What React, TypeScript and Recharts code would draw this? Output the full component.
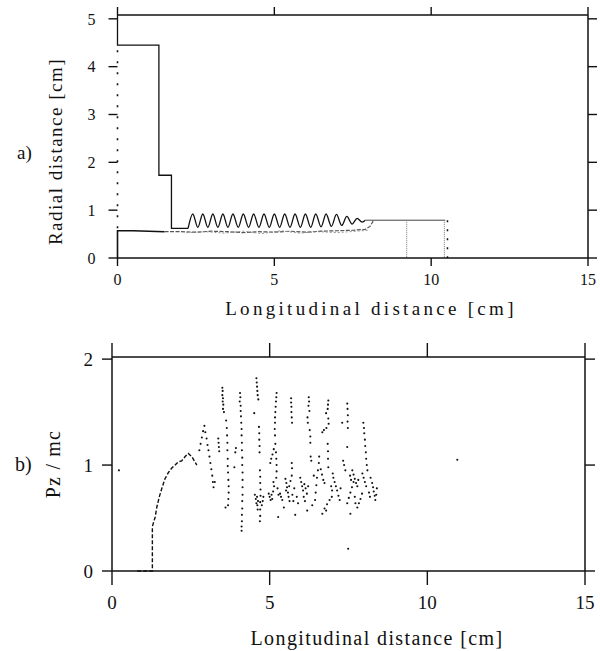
import { ComposedChart, Line, Scatter, XAxis, YAxis } from 'recharts';

type Pair = [number, number];

const xTicks = [0, 5, 10, 15];
const radialTicks = [0, 1, 2, 3, 4, 5];
const pzTicks = [0, 1, 2];

// (a) geometry: outer wall steps down into the corrugated section
const wallProfile: Pair[] = [[0, 5.08], [0, 4.45], [1.32, 4.45], [1.32, 1.73], [1.72, 1.73], [1.72, 0.62], [2.25, 0.62]];
const corrugation: Pair[] = [
  [2.25, 0.62], [2.40, 0.92], [2.56, 0.64], [2.72, 0.92], [2.88, 0.64], [3.04, 0.92], [3.20, 0.64],
  [3.36, 0.92], [3.52, 0.64], [3.68, 0.92], [3.85, 0.64], [4.01, 0.92], [4.18, 0.64], [4.34, 0.92],
  [4.51, 0.64], [4.67, 0.92], [4.84, 0.64], [5.00, 0.92], [5.17, 0.64], [5.33, 0.92], [5.50, 0.64],
  [5.66, 0.92], [5.83, 0.64], [5.99, 0.92], [6.16, 0.64], [6.32, 0.92], [6.49, 0.65], [6.65, 0.92],
  [6.82, 0.66], [6.98, 0.91], [7.15, 0.68], [7.31, 0.87], [7.48, 0.71], [7.64, 0.83], [7.80, 0.75],
  [7.90, 0.79],
];
const exitPipe: Pair[] = [[7.90, 0.79], [10.45, 0.79]];
const axisGap: Pair[] = [[0, 0.62], [0, 4.42]];
const collectorA: Pair[] = [[9.22, 0.79], [9.22, 0]];
const collectorB: Pair[] = [[10.42, 0.79], [10.42, 0]];
const collectorEdge: Pair[] = [[10.52, 0.79], [10.52, 0]];

// (a) beam envelope
const beamInlet: Pair[] = [[0, 0], [0, 0.57], [0.5, 0.57], [1.0, 0.56], [1.5, 0.55]];
const beamEdge: Pair[] = [
  [1.5, 0.55], [2.0, 0.55], [2.5, 0.54], [3.0, 0.56], [3.5, 0.55], [4.0, 0.53], [4.5, 0.55],
  [5.0, 0.54], [5.5, 0.56], [6.0, 0.54], [6.5, 0.56], [7.0, 0.57], [7.5, 0.58], [7.9, 0.60],
  [8.05, 0.66], [8.15, 0.77],
];
const beamInner: Pair[] = [
  [2.2, 0.53], [2.8, 0.55], [3.4, 0.52], [4.0, 0.56], [4.6, 0.51], [5.2, 0.57], [5.8, 0.52],
  [6.4, 0.55], [7.0, 0.53], [7.6, 0.56], [8.0, 0.58],
];

// (b) longitudinal momentum of the macro-particles
const pzLeading: Pair[] = [
  [0.80, 0.0], [1.28, 0.0], [1.28, 0.42], [1.37, 0.51], [1.42, 0.60], [1.50, 0.70], [1.59, 0.79],
  [1.68, 0.87], [1.79, 0.93], [1.89, 0.97], [2.00, 1.00], [2.10, 1.03], [2.21, 1.04], [2.32, 1.08],
  [2.42, 1.11], [2.53, 1.08], [2.63, 1.03], [2.69, 1.00],
];
const pzPeak: Pair[] = [
  [2.77, 1.14], [2.81, 1.20], [2.85, 1.26], [2.89, 1.32], [2.93, 1.37], [2.96, 1.31], [3.00, 1.25],
  [3.03, 1.19], [3.06, 1.14], [3.09, 1.08], [3.12, 1.02], [3.15, 0.96], [3.18, 0.90], [3.20, 0.84],
  [3.22, 0.79], [3.26, 0.84], [0.22, 0.95],
];
const pzStreakA: Pair[] = [
  [3.37, 1.25], [3.38, 1.21], [3.39, 1.17], [3.40, 1.13],
  [3.50, 1.73], [3.51, 1.70], [3.50, 1.66], [3.52, 1.63], [3.51, 1.60], [3.53, 1.57], [3.52, 1.53], [3.55, 1.50],
  [3.62, 1.42], [3.64, 1.35], [3.65, 1.28], [3.66, 1.21], [3.66, 1.14], [3.67, 1.06], [3.67, 0.99],
  [3.68, 0.93], [3.69, 0.86], [3.70, 0.80], [3.70, 0.74], [3.69, 0.68], [3.68, 0.62], [3.60, 0.60],
];
const pzStreakB: Pair[] = [
  [3.93, 1.16], [3.91, 1.12], [3.88, 0.98],
  [4.06, 1.68], [4.07, 1.64], [4.05, 1.60], [4.08, 1.56], [4.08, 1.51], [4.09, 1.46], [4.10, 1.40],
  [4.11, 1.34], [4.11, 1.28], [4.12, 1.21], [4.12, 1.14], [4.13, 1.07], [4.13, 1.00], [4.14, 0.93],
  [4.14, 0.86], [4.14, 0.79], [4.14, 0.72], [4.13, 0.66], [4.13, 0.59], [4.12, 0.53], [4.12, 0.47],
  [4.11, 0.42], [4.11, 0.38],
];
const pzStreakC: Pair[] = [
  [4.58, 1.82], [4.59, 1.78], [4.60, 1.74], [4.61, 1.70], [4.62, 1.66], [4.64, 1.62], [4.51, 1.49],
  [4.66, 1.36], [4.67, 1.30], [4.67, 1.24], [4.68, 1.18], [4.68, 1.12],
  [4.69, 0.95], [4.70, 0.89], [4.70, 0.83], [4.71, 0.77], [4.71, 0.71], [4.70, 0.65], [4.70, 0.58],
  [4.70, 0.52], [4.69, 0.47],
  [4.53, 0.72], [4.56, 0.68], [4.58, 0.64], [4.61, 0.62], [4.60, 0.70], [4.63, 0.66],
];
const pzStreakD: Pair[] = [
  [5.22, 1.68], [5.21, 1.64], [5.20, 1.60], [5.19, 1.55], [5.18, 1.50], [5.17, 1.45], [5.17, 1.40],
  [5.16, 1.34], [5.17, 1.28],
  [5.02, 1.02], [5.05, 1.06], [5.09, 1.10], [5.13, 1.15], [5.18, 1.20],
  [5.20, 1.12], [5.21, 1.06], [5.22, 1.00], [5.22, 0.94], [5.21, 0.88],
  [4.97, 0.73], [5.00, 0.70], [5.03, 0.67], [5.06, 0.72], [5.08, 0.68], [5.11, 0.75], [5.27, 0.51],
];
const pzStreakE: Pair[] = [
  [5.68, 1.63], [5.68, 1.59], [5.69, 1.55], [5.69, 1.50], [5.70, 1.45], [5.71, 1.40],
  [5.70, 1.02], [5.71, 0.97],
  [5.50, 0.87], [5.53, 0.83], [5.55, 0.79], [5.52, 0.76], [5.58, 0.74], [5.62, 0.80], [5.66, 0.85],
  [5.70, 0.90], [5.72, 0.72], [5.75, 0.66],
  [5.33, 0.73], [5.36, 0.70], [5.40, 0.67], [5.81, 0.53], [5.86, 0.70], [5.90, 0.64],
];
const pzStreakF: Pair[] = [
  [6.24, 1.64], [6.25, 1.60], [6.23, 1.56], [6.26, 1.51], [6.20, 1.45], [6.21, 1.40], [6.27, 1.33],
  [6.29, 1.27], [6.29, 1.21], [6.30, 1.08], [6.32, 1.04],
  [5.97, 0.88], [6.00, 0.84], [6.03, 0.80], [6.06, 0.76], [6.10, 0.82], [6.14, 0.78], [6.18, 0.73],
  [6.19, 0.57],
  [6.44, 0.67], [6.46, 0.74], [6.48, 0.81], [6.50, 0.88], [6.53, 0.95], [6.56, 1.02], [6.57, 1.08],
];
const pzStreakG: Pair[] = [
  [6.86, 1.61], [6.85, 1.57], [6.84, 1.53], [6.79, 1.49], [6.86, 1.44], [6.87, 1.39], [6.67, 1.31],
  [6.72, 1.33], [6.80, 1.35],
  [6.84, 1.20], [6.85, 1.13], [6.85, 1.06], [6.86, 0.98],
  [6.62, 0.96], [6.66, 0.91], [6.70, 0.86], [6.74, 0.83],
  [7.02, 0.88], [7.06, 0.84], [7.10, 0.80], [7.14, 0.76], [7.18, 0.71], [7.22, 0.67],
  [6.67, 0.54], [6.74, 0.59], [6.82, 0.63], [6.90, 0.67], [6.97, 0.70], [6.79, 0.57],
];
const pzStreakH: Pair[] = [
  [7.46, 1.58], [7.47, 1.53], [7.48, 1.47], [7.30, 1.40], [7.47, 1.41], [7.48, 1.35], [7.46, 1.17],
  [7.33, 1.04], [7.36, 1.00], [7.40, 0.95],
  [7.62, 0.95], [7.66, 0.91], [7.70, 0.87], [7.74, 0.83], [7.78, 0.80], [7.81, 0.86],
  [7.46, 0.64], [7.51, 0.69], [7.56, 0.74], [7.61, 0.79], [7.66, 0.84], [7.56, 0.54], [7.49, 0.21],
];
const pzStreakI: Pair[] = [
  [7.97, 1.40], [7.99, 1.35], [8.00, 1.30], [8.02, 1.24], [8.03, 1.18], [8.05, 1.12], [8.06, 1.06],
  [8.08, 1.00], [8.10, 0.95],
  [7.94, 0.92], [7.98, 0.88], [8.02, 0.84], [8.06, 0.80],
  [8.25, 0.83], [8.28, 0.79], [8.30, 0.75], [8.33, 0.71], [8.35, 0.67],
  [7.78, 0.60], [7.83, 0.64], [7.88, 0.68], [7.93, 0.73],
  [10.95, 1.05],
];
// dense low-momentum band under the streaks
const pzCluster: Pair[] = [
  [4.75, 0.62], [4.78, 0.66], [4.80, 0.70], [4.62, 0.58],
  [5.14, 0.80], [5.12, 0.84], [5.25, 0.78], [5.28, 0.72],
  [5.60, 0.70], [5.63, 0.66], [5.45, 0.60], [5.78, 0.78],
  [6.08, 0.70], [6.12, 0.66], [6.22, 0.80], [6.35, 0.62], [6.40, 0.90],
  [6.95, 0.80], [6.98, 0.76], [7.00, 0.92], [7.25, 0.78],
  [7.55, 0.90], [7.58, 0.86], [7.70, 0.70], [7.72, 0.64],
  [8.15, 0.74], [8.18, 0.70], [8.20, 0.88], [8.38, 0.72], [8.40, 0.78],
];

const pts = (pairs: Pair[]) => pairs.map(([x, y]) => ({ x, y }));

const particles = pts([
  ...pzPeak, ...pzStreakA, ...pzStreakB, ...pzStreakC, ...pzStreakD,
  ...pzStreakE, ...pzStreakF, ...pzStreakG, ...pzStreakH, ...pzStreakI, ...pzCluster,
]);

const serif = 'Liberation Serif';
const ink = '#111';
const axisLine = { stroke: ink, strokeWidth: 1.5 };

const Dot = (props: any) => <circle cx={props.cx} cy={props.cy} r={1.05} fill={ink} />;

// Tick renderers draw their own mark plus (optionally) the label.
// x/y handed in by recharts are the label anchor, i.e. offset from the axis by size + margin.
function tickFor(side: 'bottom' | 'top' | 'left' | 'right', size: number, margin: number, fontSize = 0) {
  return (p: any) => {
    const { x, y } = p;
    let l;
    if (side === 'bottom') l = { x1: x, x2: x, y1: y - margin - size, y2: y - margin };
    else if (side === 'top') l = { x1: x, x2: x, y1: y + margin + size, y2: y + margin };
    else if (side === 'left') l = { x1: x + margin + size, x2: x + margin, y1: y, y2: y };
    else l = { x1: x - margin - size, x2: x - margin, y1: y, y2: y };
    return (
      <g>
        <line {...l} stroke={ink} strokeWidth={1.4} />
        {fontSize > 0 && (
          <text
            x={x}
            y={y}
            dy={side === 'bottom' ? '0.71em' : '0.355em'}
            textAnchor={side === 'bottom' ? 'middle' : 'end'}
            fontFamily={serif}
            fontSize={fontSize}
            fill={ink}
          >
            {p.payload.value}
          </text>
        )}
      </g>
    );
  };
}

function line(pairs: Pair[], opts: Record<string, any> = {}) {
  return (
    <Line
      data={pts(pairs)}
      dataKey="y"
      type="linear"
      stroke={ink}
      strokeWidth={1.3}
      dot={false}
      activeDot={false}
      isAnimationActive={false}
      {...opts}
    />
  );
}

// the frame's top and right axes share the scales of the bottom and left ones;
// a series is bound to them so that recharts computes their ticks
const frameAxes = { xAxisId: 'top', yAxisId: 'right' };

function RadialPanel() {
  return (
    <ComposedChart width={600} height={330} margin={{ top: 0, right: 0, bottom: 0, left: 0 }}>
      <XAxis dataKey="x" type="number" domain={[0, 15]} ticks={xTicks} height={72}
        tick={tickFor('bottom', 8, 8, 16)} tickSize={8} tickMargin={8} axisLine={axisLine} tickLine={false} />
      <XAxis xAxisId="top" orientation="top" dataKey="x" type="number" domain={[0, 15]} ticks={xTicks} height={15}
        tick={tickFor('top', 8, 0)} tickSize={8} tickMargin={0} axisLine={axisLine} tickLine={false} />
      <YAxis dataKey="y" type="number" domain={[0, 5.08]} ticks={radialTicks} width={117.5}
        tick={tickFor('left', 9, 13, 16)} tickSize={9} tickMargin={13} axisLine={false} tickLine={false} />
      <YAxis yAxisId="right" orientation="right" dataKey="y" type="number" domain={[0, 5.08]} ticks={radialTicks} width={12}
        tick={tickFor('right', 9, 0)} tickSize={9} tickMargin={0} axisLine={axisLine} tickLine={false} />
      {line(wallProfile, frameAxes)}
      {line(corrugation, { type: 'monotone' })}
      {line(exitPipe, { stroke: '#444', strokeWidth: 1 })}
      {line(axisGap, { strokeDasharray: '2 9', strokeWidth: 1.6 })}
      {line(collectorA, { stroke: '#777', strokeWidth: 1, strokeDasharray: '1 1' })}
      {line(collectorB, { stroke: '#777', strokeWidth: 1, strokeDasharray: '1 1' })}
      {line(collectorEdge, { strokeDasharray: '2 7', strokeWidth: 1.5 })}
      {line(beamInlet, { strokeWidth: 1.6 })}
      {line(beamEdge, { stroke: '#555', strokeWidth: 1.2, strokeDasharray: '4 1.5' })}
      {line(beamInner, { stroke: '#888', strokeWidth: 0.9, strokeDasharray: '2 2' })}
    </ComposedChart>
  );
}

function MomentumPanel() {
  return (
    <ComposedChart width={600} height={321} margin={{ top: 0, right: 0, bottom: 0, left: 0 }}>
      <XAxis dataKey="x" type="number" domain={[0, 15]} ticks={xTicks} height={80}
        tick={tickFor('bottom', 14, 11, 19)} tickSize={14} tickMargin={11} axisLine={axisLine} tickLine={false} />
      <XAxis xAxisId="top" orientation="top" dataKey="x" type="number" domain={[0, 15]} ticks={xTicks} height={27}
        tick={tickFor('top', 14, 0)} tickSize={14} tickMargin={0} axisLine={axisLine} tickLine={false} />
      <YAxis dataKey="y" type="number" domain={[0, 2.02]} ticks={pzTicks} width={112}
        tick={tickFor('left', 10, 9, 19)} tickSize={10} tickMargin={9} axisLine={axisLine} tickLine={false} />
      <YAxis yAxisId="right" orientation="right" dataKey="y" type="number" domain={[0, 2.02]} ticks={pzTicks} width={15}
        tick={tickFor('right', 10, 0)} tickSize={10} tickMargin={0} axisLine={axisLine} tickLine={false} />
      {line(pzLeading, { ...frameAxes, strokeWidth: 1.4, strokeDasharray: '4 2' })}
      <Scatter data={particles} shape={Dot} isAnimationActive={false} />
    </ComposedChart>
  );
}

export default function App() {
  return (
    <div style={{ position: 'absolute', left: 0, top: 0, width: 600, height: 651, background: '#fff' }}>
      <div style={{ position: 'absolute', left: 0, top: 0 }}>
        <RadialPanel />
      </div>
      <div style={{ position: 'absolute', left: 0, top: 330 }}>
        <MomentumPanel />
      </div>
      <svg width={600} height={651} style={{ position: 'absolute', left: 0, top: 0, pointerEvents: 'none', fontFamily: serif }}>
        <g fill={ink}>
          <text x={17} y={159} fontSize={19}>a)</text>
          <text x={62} y={151.5} fontSize={19} letterSpacing={1.5} textAnchor="middle"
            transform="rotate(-90 62 151.5)">Radial distance [cm]</text>
          <text x={371} y={315} fontSize={19} letterSpacing={3.3} textAnchor="middle">
            Longitudinal distance [cm]
          </text>
          <text x={15} y={471} fontSize={20}>b)</text>
          <text x={60} y={464} fontSize={20} letterSpacing={1.2} textAnchor="middle"
            transform="rotate(-90 60 464)">Pz / mc</text>
          <text x={377} y={645} fontSize={20} letterSpacing={1.4} textAnchor="middle">
            Longitudinal distance [cm]
          </text>
        </g>
      </svg>
    </div>
  );
}
